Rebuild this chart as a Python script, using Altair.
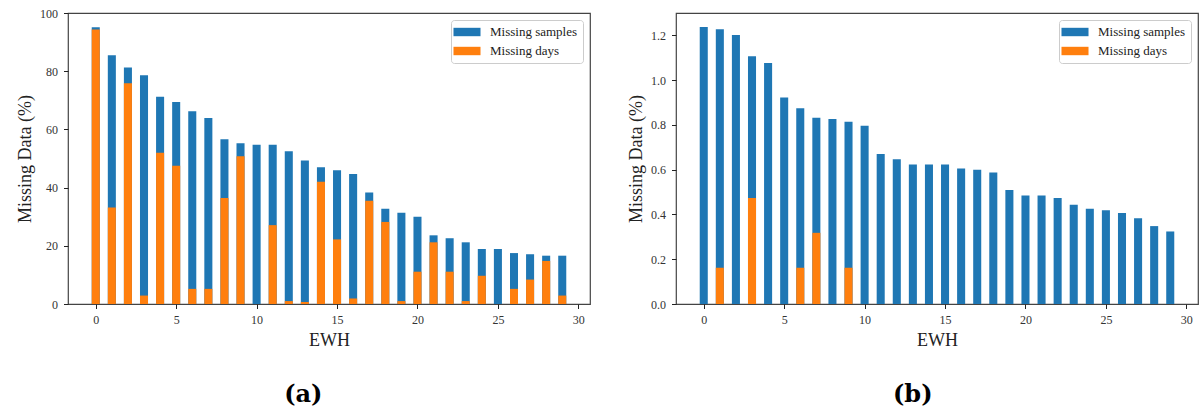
import altair as alt
import pandas as pd

ewh = list(range(30))
series_names = ["Missing samples", "Missing days"]
colors = ["#1f77b4", "#ff7f0e"]

samples_a = [95.1, 85.5, 81.3, 78.6, 71.2, 69.4, 66.2, 63.9, 56.6, 55.2,
             54.7, 54.7, 52.5, 49.3, 47.0, 46.0, 44.7, 38.3, 32.7, 31.4,
             30.0, 23.6, 22.6, 21.2, 18.9, 18.9, 17.5, 17.1, 16.6, 16.6]
days_a = [94.3, 33.2, 75.9, 2.9, 52.0, 47.5, 5.2, 5.2, 36.4, 50.8,
          0.0, 27.1, 1.0, 0.7, 42.0, 22.2, 1.9, 35.5, 28.2, 1.0,
          11.1, 21.2, 11.1, 1.0, 9.7, 0.0, 5.2, 8.4, 14.8, 2.9]
samples_b = [1.238, 1.227, 1.202, 1.107, 1.077, 0.922, 0.874, 0.832, 0.826, 0.814,
             0.796, 0.670, 0.647, 0.623, 0.623, 0.623, 0.605, 0.600, 0.588, 0.509,
             0.485, 0.485, 0.473, 0.443, 0.425, 0.419, 0.407, 0.383, 0.348, 0.324]
days_b = [0.0, 0.162, 0.0, 0.474, 0.0, 0.0, 0.162, 0.318, 0.0, 0.162,
          0.0, 0.0, 0.0, 0.0, 0.0, 0.0, 0.0, 0.0, 0.0, 0.0,
          0.0, 0.0, 0.0, 0.0, 0.0, 0.0, 0.0, 0.0, 0.0, 0.0]

xticks = [0, 5, 10, 15, 20, 25, 30]
yticks_a = [0, 20, 40, 60, 80, 100]
yticks_b = [0.0, 0.2, 0.4, 0.6, 0.8, 1.0, 1.2]

SERIF = "Liberation Serif"


def panel(samples, days, ymax, yticks, yfmt, label):
    df = pd.DataFrame({
        "EWH": ewh * 2,
        "series": [series_names[0]] * len(ewh) + [series_names[1]] * len(ewh),
        "value": samples + days,
    })
    base = alt.Chart(df).transform_calculate(
        x0="datum.EWH - 0.25", x1="datum.EWH + 0.25"
    )
    color = alt.Color(
        "series:N",
        scale=alt.Scale(domain=series_names, range=colors),
        legend=alt.Legend(
            title=None, orient="top-right", offset=7,
            fillColor="white", strokeColor="#cccccc", padding=5, cornerRadius=3,
            labelFont=SERIF, labelFontSize=13, labelColor="#222",
            symbolType="M-1.93,-0.6L1.93,-0.6L1.93,0.6L-1.93,0.6Z", symbolSize=196,
            symbolOffset=4, symbolStrokeWidth=0, symbolOpacity=1,
            labelOffset=16, rowPadding=5,
        ),
    )
    x = alt.X(
        "x0:Q",
        scale=alt.Scale(domain=[-1.725, 30.725], nice=False, zero=False),
        axis=alt.Axis(values=xticks, title="EWH", format="d"),
    )
    y = alt.Y(
        "value:Q", stack=None,
        scale=alt.Scale(domain=[0, ymax], nice=False),
        axis=alt.Axis(values=yticks, format=yfmt, title="Missing Data (%)"),
    )
    blue = base.transform_filter(alt.datum.series == series_names[0]).mark_bar().encode(
        x=x, x2="x1:Q", y=y, y2=alt.datum(0), color=color
    )
    orange = base.transform_filter(alt.datum.series == series_names[1]).mark_bar().encode(
        x=x, x2="x1:Q", y=y, y2=alt.datum(0), color=color
    )
    return alt.layer(blue, orange).properties(
        width=522, height=291,
        title=alt.TitleParams(label, orient="bottom", anchor="middle", frame="bounds",
                              font="DejaVu Serif", fontSize=24, fontWeight="bold",
                              color="black", offset=33),
    )


pa = panel(samples_a, days_a, 100, yticks_a, "d", "(a)")
pb = panel(samples_b, days_b, 1.30, yticks_b, ".1f", "(b)")

chart = alt.hconcat(pa, pb, spacing=35).resolve_scale(
    color="independent", y="independent"
).resolve_legend(color="independent").properties(
    padding={"left": 15, "top": 6, "right": 0, "bottom": 0}
).configure_view(
    stroke="#444", strokeWidth=1.2
).configure_axis(
    grid=False, domain=False, ticks=True, tickSize=4.5, tickColor="#222",
    labelFont=SERIF, labelFontSize=12, labelColor="#333",
    titleFont=SERIF, titleFontSize=18, titleFontWeight="normal", titleColor="#222",
).configure_axisY(
    labelPadding=6, titlePadding=5,
).configure_axisX(
    labelPadding=6, titlePadding=6,
)

chart.save("out.html", embed_options={"renderer": "svg", "actions": False})
